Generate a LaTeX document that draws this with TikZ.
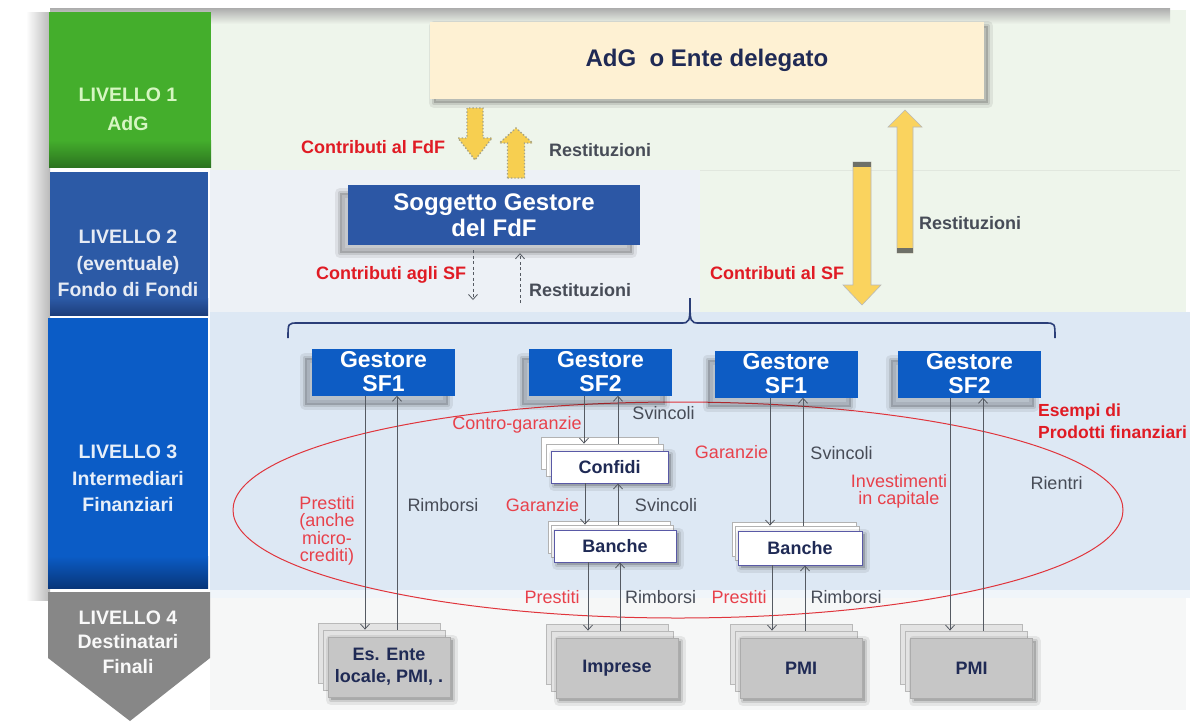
\documentclass[tikz,border=0pt]{standalone}
\usepackage{fontspec}
\setmainfont{Liberation Sans}
\usetikzlibrary{arrows.meta,shapes.geometric,calc}

% palette
\definecolor{bandone}{HTML}{EEF5EB}
\definecolor{bandtwo}{HTML}{EDF1F6}
\definecolor{bandthree}{HTML}{DDE8F4}
\definecolor{bandfour}{HTML}{F6F7F7}
\definecolor{lvone}{HTML}{44AE2C}
\definecolor{lvonedark}{HTML}{2C7420}
\definecolor{lvonetext}{HTML}{D6F6C2}
\definecolor{lvtwo}{HTML}{2C5AA6}
\definecolor{lvtwodark}{HTML}{1D3E7C}
\definecolor{lvthree}{HTML}{0B5CC6}
\definecolor{lvthreedark}{HTML}{08367A}
\definecolor{lvfour}{HTML}{878787}
\definecolor{adgfill}{HTML}{FEF1D3}
\definecolor{sogfill}{HTML}{2C57A5}
\definecolor{gblue}{HTML}{0D5CC4}
\definecolor{navy}{HTML}{1F2A55}
\definecolor{boldred}{HTML}{E01B24}
\definecolor{softred}{HTML}{E8414B}
\definecolor{labgray}{HTML}{474C57}
\definecolor{arrgray}{HTML}{555A62}
\definecolor{ellred}{HTML}{E0353C}
\definecolor{braceblue}{HTML}{2B3E78}
\definecolor{yellowA}{HTML}{F7CF50}
\definecolor{yellowB}{HTML}{FAD35E}
\definecolor{capgray}{HTML}{6E7068}
\definecolor{boxgray}{HTML}{C6C6C6}

% fat block arrows (x, y tail, y tip, shaft half width, head half width, head length, style)
\newcommand\yarrowdown[7]{\path[#7] (#1-#4,#2) -- (#1-#4,#3-#6) -- (#1-#5,#3-#6) -- (#1,#3) -- (#1+#5,#3-#6) -- (#1+#4,#3-#6) -- (#1+#4,#2) -- cycle;}
\newcommand\yarrowup[7]{\path[#7] (#1-#4,#2) -- (#1-#4,#3+#6) -- (#1-#5,#3+#6) -- (#1,#3) -- (#1+#5,#3+#6) -- (#1+#4,#3+#6) -- (#1+#4,#2) -- cycle;}

\tikzset{
  softshadow/.style={
    preaction={fill=black, fill opacity=0.07, draw=black, draw opacity=0.07, line width=10pt, line join=round, transform canvas={shift={(#1)}}},
    preaction={fill=black, fill opacity=0.10, draw=black, draw opacity=0.10, line width=4pt, line join=round, transform canvas={shift={(#1)}}}},
  lvtext/.style={font=\bfseries\fontsize{19.5}{26.5}\selectfont, align=center, inner sep=0pt},
  gestore/.style={fill=gblue, text=white, font=\bfseries\fontsize{23}{24}\selectfont, align=center,
    minimum width=143pt, minimum height=47pt, inner sep=0pt, softshadow={-7pt,-9pt}},
  whitebox/.style={fill=white, draw=gray!70!blue, line width=0.8pt, text=navy,
    font=\bfseries\fontsize{18}{20}\selectfont, minimum height=32pt, inner sep=0pt, softshadow={3pt,-3pt}},
  whiteback/.style={fill=white, draw=gray!60, line width=0.8pt, minimum height=32pt, inner sep=0pt},
  greybox/.style={fill=boxgray, draw=gray!65, line width=0.8pt, text=navy, align=center,
    font=\bfseries\fontsize{18}{22}\selectfont, minimum width=122pt, minimum height=60pt, inner sep=0pt, softshadow={3pt,-3pt}},
  greyback/.style={fill=gray!22, draw=gray!55, line width=0.8pt, minimum width=122pt, minimum height=60pt, inner sep=0pt},
  boldred/.style={font=\bfseries\fontsize{18}{20}\selectfont, text=boldred, inner sep=0pt},
  boldgray/.style={font=\bfseries\fontsize{18}{20}\selectfont, text=labgray, inner sep=0pt},
  redlab/.style={font=\fontsize{18}{17.5}\selectfont, text=softred, inner sep=0pt},
  graylab/.style={font=\fontsize{18}{17.5}\selectfont, text=labgray, inner sep=0pt},
  conn/.style={draw=arrgray, line width=0.8pt, -{Straight Barb[length=5pt,width=9pt]}},
  dconn/.style={conn, dash pattern=on 3pt off 2.5pt},
  smallyellow/.style={fill=yellowA, draw=gray!80!yellow, line width=1.4pt, dotted},
  bigyellow/.style={fill=yellowB, draw=gray!55, line width=0.6pt},
}

\begin{document}
\begin{tikzpicture}[x=1pt,y=-1pt]
\useasboundingbox (0,0) rectangle (1194,724);
\fill[white] (0,0) rectangle (1194,724);

% background bands
\fill[bandone] (210,10) rectangle (1186,170);
\fill[bandone] (700,170) rectangle (1186,312);
\fill[bandtwo] (210,170) rectangle (700,312);
\draw[bandone!88!gray, line width=0.8pt] (700,170) -- (1180,170);
\fill[bandthree] (210,312) rectangle (1190,590);
\fill[bandthree!45!white] (210,590) rectangle (1190,598);
\fill[bandfour] (210,598) rectangle (1186,710);

% edge shadows
\shade[top color=gray!65, bottom color=bandone] (50,8) rectangle (1170,24);
\shade[left color=white, right color=gray!55] (26,12) rectangle (50,600);

% level column
\node[fill=lvone, minimum width=162pt, minimum height=155pt, inner sep=0pt] (lv1) at (130,89.5) {};
\shade[top color=lvone, bottom color=lvonedark] (49,140) rectangle (211,167);
\node[lvtext, text=lvonetext, font=\bfseries\fontsize{19.5}{29}\selectfont] (lv1t) at (128,109.5) {LIVELLO 1\\AdG};

\node[fill=lvtwo, minimum width=158pt, minimum height=143pt, inner sep=0pt] (lv2) at (129,243.5) {};
\shade[top color=lvtwo, bottom color=lvtwodark] (50,298) rectangle (208,315);
\node[lvtext, text=white!88!lvtwo] (lv2t) at (128,263.5) {LIVELLO 2\\(eventuale)\\Fondo di Fondi};

\node[fill=lvthree, minimum width=160pt, minimum height=270pt, inner sep=0pt] (lv3) at (128,453) {};
\shade[top color=lvthree, bottom color=lvthreedark] (48,556) rectangle (208,588);
\node[lvtext, text=white!90!lvthree] (lv3t) at (128,478.5) {LIVELLO 3\\Intermediari\\Finanziari};

\fill[lvfour] (48,592) -- (210,592) -- (210,658) -- (130,721) -- (48,658) -- cycle;
\node[lvtext, text=white!95!lvfour, font=\bfseries\fontsize{19.5}{24.5}\selectfont] (lv4t) at (128,642) {LIVELLO 4\\Destinatari\\Finali};

% level 1 and 2 boxes
\node[fill=adgfill, minimum width=554pt, minimum height=77pt, inner sep=0pt, text=navy,
      font=\bfseries\fontsize{24}{26}\selectfont, softshadow={4pt,-4pt}] (adg) at (707,60.5) {AdG\ \ o Ente delegato};

\node[fill=sogfill, text=white, minimum width=292pt, minimum height=60pt, inner sep=0pt, align=center,
      font=\bfseries\fontsize{24}{26}\selectfont, softshadow={-8pt,-8pt}] (sog) at (494,215) {Soggetto Gestore\\del FdF};

% flows between level 1 and the lower levels
\yarrowdown{475}{108}{160}{8}{17}{22}{smallyellow}
\yarrowup{516}{178}{128}{8.5}{16.5}{15}{smallyellow}
\yarrowdown{862}{162}{305}{9}{19}{20}{bigyellow}
\fill[capgray] (853,162) rectangle (871,167);
\yarrowup{905}{253}{110}{8}{17}{17}{bigyellow}
\fill[capgray] (897,248) rectangle (913,253);

\node[boldred] (cfdf) at (373,147) {Contributi al FdF};
\node[boldgray] (rfdf) at (600,150) {Restituzioni};
\node[boldred] (csf) at (777,273) {Contributi al SF};
\node[boldgray] (rsf) at (970,223) {Restituzioni};
\node[boldred] (cagli) at (391,275) {Contributi agli SF};
\node[boldgray] (rsog) at (580,290) {Restituzioni};

\coordinate (sogdown) at (473,300);
\coordinate (sogup) at (520,303);
\draw[dconn, shorten <=5pt] (sog.south -| sogdown) -- (sogdown);
\draw[dconn, shorten >=8pt] (sogup) -- (sogup |- sog.south);

% brace over the level 3 managers
\draw[braceblue, line width=1.6pt] (288,338) .. controls (288,323) .. (298,323) -- (680,323)
  .. controls (690,323) .. (690,298) .. controls (690,323) .. (700,323) -- (1045,323)
  .. controls (1055,323) .. (1055,338);

% products ellipse
\node[draw=ellred, line width=1pt, ellipse, minimum width=890pt, minimum height=216pt, inner sep=0pt] (prod) at (678,510) {};
\node[boldred, align=left, anchor=west, font=\bfseries\fontsize{17.5}{22}\selectfont] (esempi) at (1038,421) {Esempi di\\Prodotti finanziari};

% managers
\node[gestore] (g1) at (383.5,372) {Gestore\\SF1};
\node[gestore] (g2) at (600.5,372) {Gestore\\SF2};
\node[gestore] (g3) at (786,374) {Gestore\\SF1};
\node[gestore] (g4) at (969.5,374) {Gestore\\SF2};

% intermediaries
\node[whiteback, minimum width=117pt] (conf-b2) at (599.5,453) {};
\node[whiteback, minimum width=117pt] (conf-b1) at (604.5,460) {};
\node[whitebox, minimum width=117pt] (conf) at (609.5,467) {Confidi};

\node[whiteback, minimum width=122pt] (ban-b2) at (609,537) {};
\node[whiteback, minimum width=122pt] (ban-b1) at (612,541) {};
\node[whitebox, minimum width=122pt] (ban) at (615,546) {Banche};

\node[whiteback, minimum width=124pt, minimum height=34pt] (ban3-b2) at (794,539) {};
\node[whiteback, minimum width=124pt, minimum height=34pt] (ban3-b1) at (797,543) {};
\node[whitebox, minimum width=124pt, minimum height=34pt] (ban3) at (800,548) {Banche};

% final recipients
\node[greyback] (ent-b2) at (379,653) {};
\node[greyback] (ent-b1) at (384,660) {};
\node[greybox] (ent) at (389,667) {Es. Ente\\locale, PMI, .};

\node[greyback] (imp-b2) at (607,654) {};
\node[greyback] (imp-b1) at (612,661) {};
\node[greybox] (imp) at (617,668) {Imprese};

\node[greyback] (pmi3-b2) at (791,654) {};
\node[greyback] (pmi3-b1) at (796,661) {};
\node[greybox] (pmi3) at (801,668) {PMI};

\node[greyback] (pmi4-b2) at (961.5,654) {};
\node[greyback] (pmi4-b1) at (966.5,661) {};
\node[greybox] (pmi4) at (971.5,668) {PMI};

% connectors: column 1
\coordinate (a1) at ([xshift=-18.5pt]g1.south);
\coordinate (a2) at ([xshift=13.5pt]g1.south);
\draw[conn] (a1) -- (a1 |- ent-b1.north);
\draw[conn] (a2 |- ent-b1.north) -- (a2);
% column 2
\coordinate (b1) at ([xshift=-16.5pt]g2.south);
\coordinate (b2) at ([xshift=17.5pt]g2.south);
\draw[conn] (b1) -- (b1 |- conf-b1.north);
\draw[conn] (b2 |- conf-b1.north) -- (b2);
\coordinate (c1) at ([xshift=-24.5pt]conf.south);
\coordinate (c2) at ([xshift=8.5pt]conf.south);
\draw[conn] (c1) -- (c1 |- ban-b1.north);
\draw[conn] (c2 |- ban-b1.north) -- (c2);
\coordinate (d1) at ([xshift=-27pt]ban.south);
\coordinate (d2) at ([xshift=5pt]ban.south);
\draw[conn] (d1) -- (d1 |- imp-b1.north);
\draw[conn] (d2 |- imp-b1.north) -- (d2);
% column 3
\coordinate (e1) at ([xshift=-16pt]g3.south);
\coordinate (e2) at ([xshift=17pt]g3.south);
\draw[conn] (e1) -- (e1 |- ban3-b1.north);
\draw[conn] (e2 |- ban3-b1.north) -- (e2);
\coordinate (f1) at ([xshift=-28pt]ban3.south);
\coordinate (f2) at ([xshift=5pt]ban3.south);
\draw[conn] (f1) -- (f1 |- pmi3-b1.north);
\draw[conn] (f2 |- pmi3-b1.north) -- (f2);
% column 4
\coordinate (h1) at ([xshift=-19.5pt]g4.south);
\coordinate (h2) at ([xshift=13.5pt]g4.south);
\draw[conn] (h1) -- (h1 |- pmi4-b1.north);
\draw[conn] (h2 |- pmi4-b1.north) -- (h2);

% connector labels
\node[redlab, align=center] (lpre1) at (327,531) {Prestiti\\(anche\\micro-\\crediti)};
\node[graylab] (lrim1) at (443,505) {Rimborsi};
\node[redlab] (lcg) at (517,425) {Contro-garanzie};
\node[graylab] (lsv1) at (663.5,413) {Svincoli};
\node[redlab] (lgar2) at (542.5,505) {Garanzie};
\node[graylab] (lsv2) at (666,505) {Svincoli};
\node[redlab] (lpre2) at (552,597) {Prestiti};
\node[graylab] (lrim2) at (660.5,597) {Rimborsi};
\node[redlab] (lgar3) at (731.5,452) {Garanzie};
\node[graylab] (lsv3) at (841.5,453) {Svincoli};
\node[redlab] (lpre3) at (739,597) {Prestiti};
\node[graylab] (lrim3) at (846,597) {Rimborsi};
\node[redlab, align=center] (linv) at (899,491.5) {Investimenti\\in capitale};
\node[graylab] (lrie) at (1056.5,483) {Rientri};
\end{tikzpicture}
\end{document}
